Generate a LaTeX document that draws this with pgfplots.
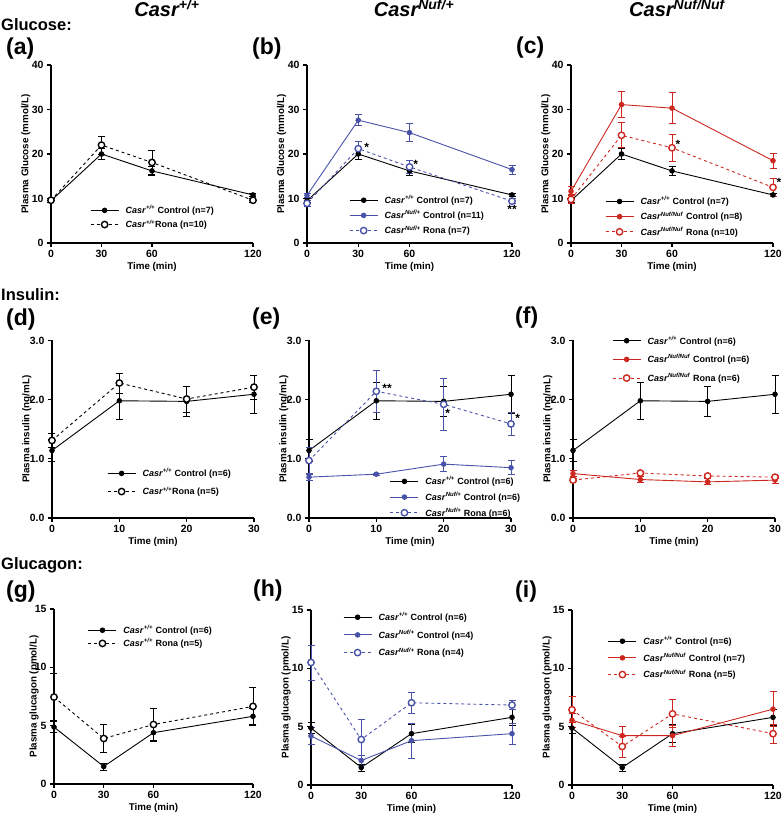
\documentclass[border=0pt]{standalone}
\usepackage{pgfplots}
\pgfplotsset{compat=1.18}
\usepackage{fontspec}
\setmainfont{Liberation Sans}
\definecolor{bl}{RGB}{72,82,168}
\definecolor{rd}{RGB}{205,40,32}
\newcommand{\C}[1]{\textbf{\textit{Casr}}\textsuperscript{\textbf{\textit{#1}}}}
\pgfplotsset{
  gp/.style={scale only axis, width=202pt, height=178pt, axis lines*=left,
    axis line style={line width=1.6pt, black}, tick align=outside, major tick length=4pt,
    tick style={line width=1.3pt, black}, clip=false,
    /pgf/number format/assume math mode=true,
    ticklabel style={font=\bfseries\fontsize{10.5}{11}\selectfont},
    label style={font=\bfseries\fontsize{9.8}{10}\selectfont},
    xlabel={Time (min)},
    xlabel style={at={(axis description cs:0.5,-0.135)}, anchor=center},
    ylabel style={at={(axis description cs:-0.124,0.5)}, anchor=center},
    xmin=0, ymin=0,
    legend cell align=left,
    legend style={draw=none, fill=none, anchor=north west, inner sep=0pt,
      font=\bfseries\fontsize{9}{9.5}\selectfont, nodes={inner sep=1.5pt},
      /tikz/every odd column/.append style={column sep=5pt}},
    legend image code/.code={\draw[mark repeat=2,mark phase=2,##1] plot coordinates {(0pt,0pt) (14pt,0pt) (28pt,0pt)};},
  },
  glu/.style={gp, xmax=120, xtick={0,30,60,120}, ymax=40, ytick={0,10,20,30,40}, ylabel={Plasma Glucose (mmol/L)}},
  ins/.style={gp, height=177.6pt, xmax=30, xtick={0,10,20,30}, ymax=3, ytick={0,1,2,3},
    yticklabel style={/pgf/number format/.cd, fixed, fixed zerofill, precision=1}, ylabel={Plasma insulin (ng/mL)}},
  gcg/.style={gp, height=175pt, xmax=120, xtick={0,30,60,120}, ymax=15, ytick={0,5,10,15}, ylabel={Plasma glucagon (pmol/L)}},
  ctrl/.style={color=#1, solid, line width=0.9pt, mark=*, mark size=2.3pt, mark options={solid, fill=#1},
    error bars/.cd, y dir=both, y explicit, error bar style={line width=0.9pt, solid, #1},
    error mark options={rotate=90, mark size=3.5pt, line width=0.9pt, solid, #1}},
  rona/.style={color=#1, dashed, line width=0.9pt, mark=*, mark size=3.2pt, mark options={solid, fill=white, draw=#1, line width=1.4pt},
    error bars/.cd, y dir=both, y explicit, error bar style={line width=0.9pt, solid, #1},
    error mark options={rotate=90, mark size=3.5pt, line width=0.9pt, solid, #1}},
}
\newcommand{\stf}{\bfseries\fontsize{12}{12}\selectfont}
\begin{document}
\begin{tikzpicture}
\path[use as bounding box] (0,0) rectangle (783pt,815pt);
% headers
\node[anchor=base, font=\bfseries\itshape\fontsize{20}{20}\selectfont] at (167pt,798pt) {Casr\textsuperscript{+/+}};
\node[anchor=base, font=\bfseries\itshape\fontsize{20}{20}\selectfont] at (414pt,798pt) {Casr\textsuperscript{Nuf/+}};
\node[anchor=base, font=\bfseries\itshape\fontsize{20}{20}\selectfont] at (677pt,798pt) {Casr\textsuperscript{Nuf/Nuf}};
\node[anchor=west, inner sep=0pt, font=\bfseries\fontsize{16.5}{17}\selectfont] at (1pt,790pt) {Glucose:};
\node[anchor=west, inner sep=0pt, font=\bfseries\fontsize{16.5}{17}\selectfont] at (1pt,520pt) {Insulin:};
\node[anchor=west, inner sep=0pt, font=\bfseries\fontsize{16.5}{17}\selectfont] at (1pt,250pt) {Glucagon:};
\foreach \lab/\x/\y in {(a)/6/766,(b)/252/766,(c)/516/767,(d)/6/495,(e)/252/496,(f)/515/497,(g)/6/223,(h)/253/224,(i)/515/223}
  \node[anchor=west, inner sep=0pt, font=\bfseries\fontsize{23}{23}\selectfont] at (\x pt,\y pt) {\lab};

% (a)
\begin{axis}[glu, at={(51pt,572pt)}, anchor=south west,
  legend style={at={(axis description cs:0.193,0.22)}, row sep=1.5pt}]
\addplot+[ctrl=black] coordinates {(0,9.5) +- (0,0.4) (30,20.0) +- (0,1.2) (60,16.2) +- (0,1.0) (120,10.8) +- (0,0.4)};
\addlegendentry{\C{+/+} Control (n=7)}
\addplot+[rona=black] coordinates {(0,9.6) +- (0,0.5) (30,22.0) +- (0,2.0) (60,18.1) +- (0,2.7) (120,9.6) +- (0,0.5)};
\addlegendentry{\C{+/+}Rona (n=10)}
\end{axis}
% (b)
\begin{axis}[glu, width=205pt, at={(307pt,572pt)}, anchor=south west,
  legend style={at={(axis description cs:0.205,0.277)}, row sep=2.5pt}]
\addplot+[ctrl=black] coordinates {(0,9.5) +- (0,0.4) (30,20.0) +- (0,1.2) (60,16.2) +- (0,1.0) (120,10.8) +- (0,0.4)};
\addlegendentry{\C{+/+} Control (n=7)}
\addplot+[ctrl=bl] coordinates {(0,10.7) +- (0,0.5) (30,27.6) +- (0,1.2) (60,24.8) +- (0,2.0) (120,16.5) +- (0,1.0)};
\addlegendentry{\C{Nuf/+} Control (n=11)}
\addplot+[rona=bl] coordinates {(0,8.9) +- (0,0.6) (30,21.2) +- (0,1.6) (60,17.1) +- (0,1.4) (120,9.4) +- (0,0.5)};
\addlegendentry{\C{Nuf/+} Rona (n=7)}
\node[font=\stf] at (axis cs:35,21.4) {*};
\node[font=\stf] at (axis cs:63.6,17.7) {*};
\node[font=\stf] at (axis cs:120,7.6) {**};
\end{axis}
% (c)
\begin{axis}[glu, at={(571pt,572pt)}, anchor=south west,
  legend style={at={(axis description cs:0.168,0.27)}, row sep=2.5pt}]
\addplot+[ctrl=black] coordinates {(0,9.5) +- (0,0.4) (30,20.0) +- (0,1.2) (60,16.2) +- (0,1.0) (120,10.8) +- (0,0.4)};
\addlegendentry{\C{+/+} Control (n=7)}
\addplot+[ctrl=rd] coordinates {(0,11.6) +- (0,1.0) (30,31.1) +- (0,2.9) (60,30.3) +- (0,3.5) (120,18.5) +- (0,1.7)};
\addlegendentry{\C{Nuf/Nuf} Control (n=8)}
\addplot+[rona=rd] coordinates {(0,9.8) +- (0,1.0) (30,24.2) +- (0,2.8) (60,21.4) +- (0,3.0) (120,12.5) +- (0,2.0)};
\addlegendentry{\C{Nuf/Nuf} Rona (n=10)}
\node[font=\stf] at (axis cs:63.6,22.2) {*};
\node[font=\stf] at (axis cs:123.6,13.6) {*};
\end{axis}
% (d)
\begin{axis}[ins, at={(52pt,297pt)}, anchor=south west,
  legend style={at={(axis description cs:0.272,0.288)}, row sep=5.5pt}]
\addplot+[ctrl=black] coordinates {(0,1.14) +- (0,0.18) (10,1.98) +- (0,0.31) (20,1.97) +- (0,0.26) (30,2.09) +- (0,0.32)};
\addlegendentry{\C{+/+} Control (n=6)}
\addplot+[rona=black] coordinates {(0,1.31) +- (0,0.12) (10,2.28) +- (0,0.17) (20,2.01) +- (0,0.22) (30,2.21) +- (0,0.20)};
\addlegendentry{\C{+/+}Rona (n=5)}
\end{axis}
% (e)
\begin{axis}[ins, at={(309pt,297pt)}, anchor=south west,
  legend style={at={(axis description cs:0.40,0.243)}, row sep=3pt}]
\addplot+[ctrl=black] coordinates {(0,1.14) +- (0,0.18) (10,1.98) +- (0,0.31) (20,1.97) +- (0,0.26) (30,2.09) +- (0,0.32)};
\addlegendentry{\C{+/+} Control (n=6)}
\addplot+[ctrl=bl] coordinates {(0,0.69) +- (0,0.05) (10,0.74) +- (0,0.02) (20,0.91) +- (0,0.13) (30,0.85) +- (0,0.12)};
\addlegendentry{\C{Nuf/+} Control (n=6)}
\addplot+[rona=bl] coordinates {(0,0.97) +- (0,0.22) (10,2.14) +- (0,0.36) (20,1.92) +- (0,0.44) (30,1.59) +- (0,0.20)};
\addlegendentry{\C{Nuf/+} Rona (n=6)}
\node[font=\stf] at (axis cs:11.6,2.19) {**};
\node[font=\stf] at (axis cs:20.6,1.77) {*};
\node[font=\stf] at (axis cs:31.0,1.69) {*};
\end{axis}
% (f)
\begin{axis}[ins, at={(573pt,297pt)}, anchor=south west,
  legend style={at={(axis description cs:0.193,1.035)}, row sep=6pt}]
\addplot+[ctrl=black] coordinates {(0,1.14) +- (0,0.18) (10,1.98) +- (0,0.31) (20,1.97) +- (0,0.26) (30,2.09) +- (0,0.32)};
\addlegendentry{\C{+/+} Control (n=6)}
\addplot+[ctrl=rd] coordinates {(0,0.75) +- (0,0.05) (10,0.65) +- (0,0.05) (20,0.61) +- (0,0.05) (30,0.64) +- (0,0.05)};
\addlegendentry{\C{Nuf/Nuf} Control (n=6)}
\addplot+[rona=rd] coordinates {(0,0.64) +- (0,0.03) (10,0.76) +- (0,0.03) (20,0.71) +- (0,0.03) (30,0.69) +- (0,0.03)};
\addlegendentry{\C{Nuf/Nuf} Rona (n=6)}
\end{axis}
% (g)
\begin{axis}[gcg, width=199pt, at={(54pt,31pt)}, anchor=south west,
  ylabel style={at={(axis description cs:-0.1,0.5)}},
  legend style={at={(axis description cs:0.17,0.916)}, row sep=0.5pt}]
\addplot+[ctrl=black] coordinates {(0,4.88) +- (0,0.5) (30,1.5) +- (0,0.3) (60,4.4) +- (0,0.75) (120,5.8) +- (0,0.7)};
\addlegendentry{\C{+/+} Control (n=6)}
\addplot+[rona=black] coordinates {(0,7.45) +- (0,2.0) (30,3.9) +- (0,1.2) (60,5.1) +- (0,1.4) (120,6.65) +- (0,1.6)};
\addlegendentry{\C{+/+} Rona (n=5)}
\end{axis}
% (h)
\begin{axis}[gcg, width=201pt, at={(311pt,30pt)}, anchor=south west,
  legend style={at={(axis description cs:0.159,0.996)}, row sep=5pt}]
\addplot+[ctrl=black] coordinates {(0,4.88) +- (0,0.5) (30,1.5) +- (0,0.3) (60,4.4) +- (0,0.75) (120,5.8) +- (0,0.7)};
\addlegendentry{\C{+/+} Control (n=6)}
\addplot+[ctrl=bl] coordinates {(0,4.2) +- (0,0.7) (30,2.1) +- (0,0.4) (60,3.8) +- (0,1.5) (120,4.4) +- (0,0.9)};
\addlegendentry{\C{Nuf/+} Control (n=4)}
\addplot+[rona=bl] coordinates {(0,10.5) +- (0,1.5) (30,3.9) +- (0,1.7) (60,7.05) +- (0,0.9) (120,6.85) +- (0,0.4)};
\addlegendentry{\C{Nuf/+} Rona (n=4)}
\end{axis}
% (i)
\begin{axis}[gcg, width=201pt, at={(572pt,30pt)}, anchor=south west,
  legend style={at={(axis description cs:0.178,0.859)}, row sep=4pt}]
\addplot+[ctrl=black] coordinates {(0,4.88) +- (0,0.5) (30,1.5) +- (0,0.3) (60,4.4) +- (0,0.75) (120,5.8) +- (0,0.7)};
\addlegendentry{\C{+/+} Control (n=6)}
\addplot+[ctrl=rd] coordinates {(0,5.55) +- (0,0.6) (30,4.23) +- (0,0.8) (60,4.23) +- (0,0.9) (120,6.5) +- (0,1.5)};
\addlegendentry{\C{Nuf/Nuf} Control (n=7)}
\addplot+[rona=rd] coordinates {(0,6.45) +- (0,1.1) (30,3.3) +- (0,0.9) (60,6.1) +- (0,1.2) (120,4.4) +- (0,0.8)};
\addlegendentry{\C{Nuf/Nuf} Rona (n=5)}
\end{axis}
\end{tikzpicture}
\end{document}
